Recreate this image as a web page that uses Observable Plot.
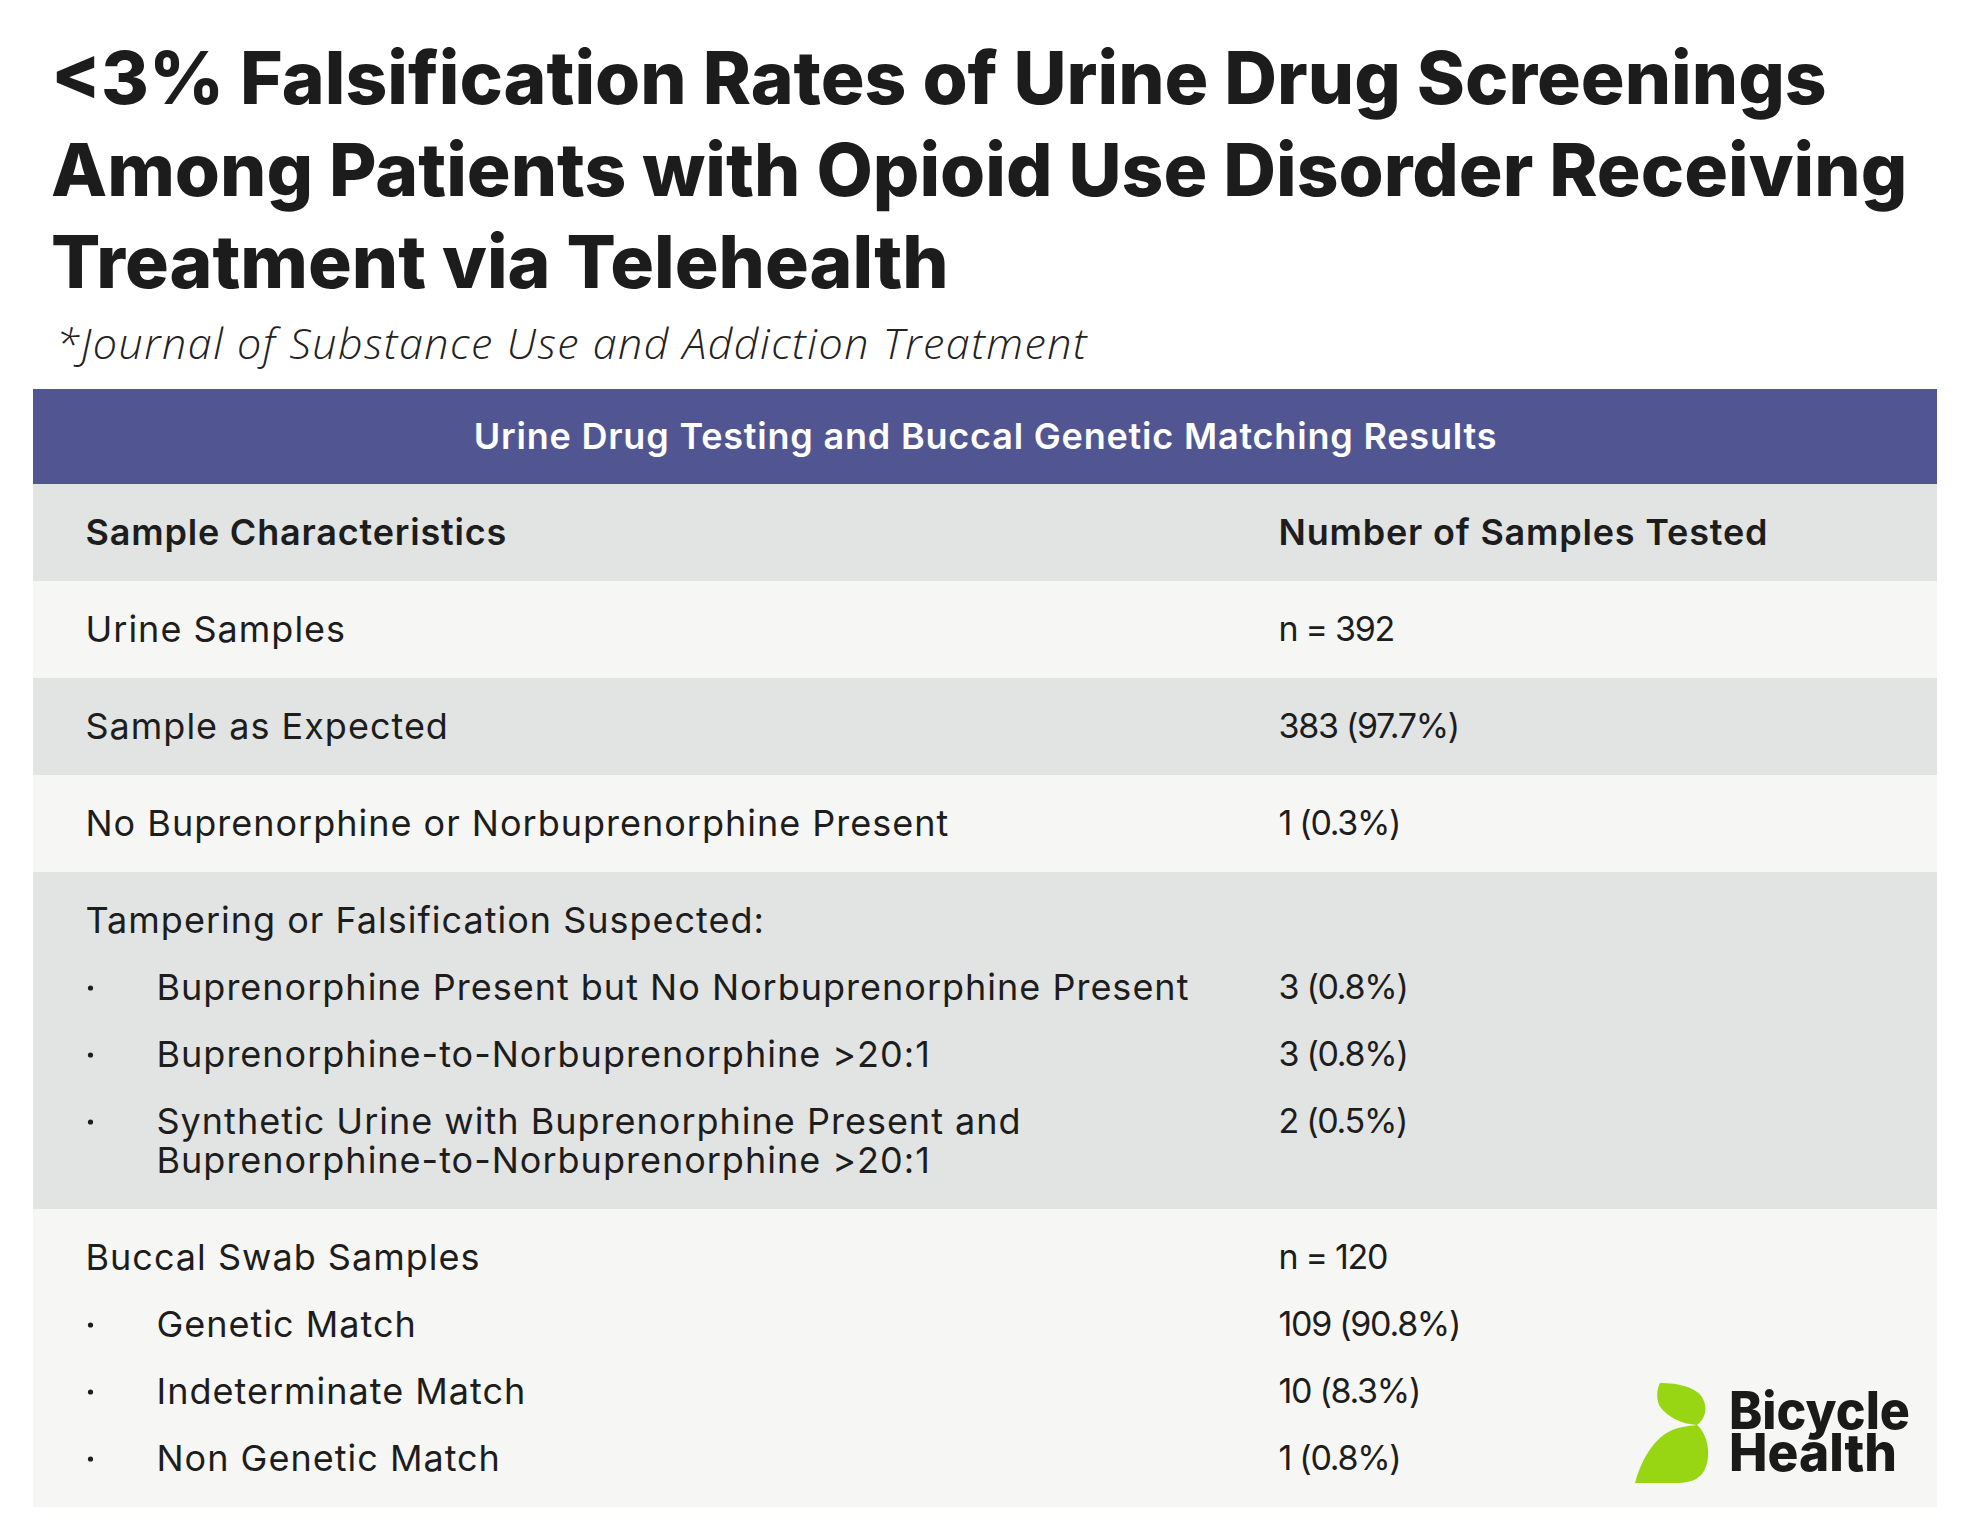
<!DOCTYPE html>
<html>
<head>
<meta charset="utf-8">
<script src="https://cdn.jsdelivr.net/npm/d3@7"></script>
<script src="https://cdn.jsdelivr.net/npm/@observablehq/plot@0.6"></script>
<style>
  html, body { margin: 0; padding: 0; background: #ffffff; width: 1968px; height: 1536px; overflow: hidden; }
  #head { position: relative; height: 389px; }
  #title { position: absolute; left: 51px; top: 32px; margin: 0; font-family: Inter, sans-serif; font-weight: 800;
           font-size: 73px; line-height: 92px; color: #1c1c1c; letter-spacing: 0px; white-space: nowrap; }
  #subtitle { position: absolute; left: 56px; top: 318px; margin: 0; font-family: "Open Sans", sans-serif; font-style: italic;
              font-weight: 300; font-size: 43px; line-height: 50px; color: #222; letter-spacing: 1.5px; white-space: nowrap; }
  #chart svg { display: block; }
</style>
</head>
<body>
<div id="head">
  <h1 id="title"></h1>
  <p id="subtitle"></p>
</div>
<div id="chart"></div>
<script>
// ---- content ----
const titleLines = [
  "<3% Falsification Rates of Urine Drug Screenings",
  "Among Patients with Opioid Use Disorder Receiving",
  "Treatment via Telehealth"
];
const subtitle = "*Journal of Substance Use and Addiction Treatment";
const tableTitle = "Urine Drug Testing and Buccal Genetic Matching Results";
const columnHeaders = ["Sample Characteristics", "Number of Samples Tested"];

const rowLabels = [
  "Urine Samples",
  "Sample as Expected",
  "No Buprenorphine or Norbuprenorphine Present",
  "Tampering or Falsification Suspected:",
  "Buprenorphine Present but No Norbuprenorphine Present",
  "Buprenorphine-to-Norbuprenorphine >20:1",
  "Synthetic Urine with Buprenorphine Present and\nBuprenorphine-to-Norbuprenorphine >20:1",
  "Buccal Swab Samples",
  "Genetic Match",
  "Indeterminate Match",
  "Non Genetic Match"
];
const rowCounts   = [392, 383, 1, null, 3, 3, 2, 120, 109, 10, 1];
const rowPercents = [null, 97.7, 0.3, null, 0.8, 0.8, 0.5, null, 90.8, 8.3, 0.8];
const rowIsTotal  = [true, false, false, false, false, false, false, true, false, false, false];
const rowBullet   = [false, false, false, false, true, true, true, false, true, true, true];
const rowGroup    = [0, 1, 2, 3, 3, 3, 3, 4, 4, 4, 4];
const logoWords = ["Bicycle", "Health"];

// ---- page header ----
document.getElementById("title").innerHTML = titleLines.map(t => t.replace(/</g, "&lt;")).join("<br>");
document.getElementById("subtitle").textContent = subtitle;

// ---- layout (derived from row structure) ----
const W = 1968, H = 1147;
const tableX1 = 33, tableX2 = 1937;
const colX = [85, 1278], bulletX = 90, indentX = 156;
const barH = 95, rowPad = 48.5, linePitch = 67, wrapPitch = 39;
const shadeA = "#e1e4e3", shadeB = "#f6f6f4";

const bands = [];
const lines = [];
const values = [];
const bullets = [];
let y = 0;
bands.push({y1: 0, y2: barH, fill: "#515693"});
y = barH;
bands.push({y1: y, y2: y + 2 * rowPad, fill: shadeA});
const colHeadY = y + rowPad;
y += 2 * rowPad;

const groupIds = [...new Set(rowGroup)];
groupIds.forEach((g, gi) => {
  const idx = rowLabels.map((_, i) => i).filter(i => rowGroup[i] === g);
  const y1 = y;
  let cy = y + rowPad;
  idx.forEach((i, k) => {
    if (k > 0) cy += linePitch;
    const parts = rowLabels[i].split("\n");
    parts.forEach((p, pi) => {
      lines.push({x: rowBullet[i] ? indentX : colX[0], y: cy + pi * wrapPitch, text: p});
    });
    if (rowBullet[i]) bullets.push({x: bulletX, y: cy});
    if (rowCounts[i] != null) {
      values.push({x: colX[1], y: cy,
        text: rowIsTotal[i] ? `n = ${rowCounts[i]}` : `${rowCounts[i]} (${rowPercents[i]}%)`});
    }
    cy += (parts.length - 1) * wrapPitch;
  });
  const y2 = cy + rowPad;
  bands.push({y1, y2, fill: gi % 2 === 0 ? shadeB : shadeA});
  y = y2;
});

const font = "Inter, sans-serif";
const plot = Plot.plot({
  width: W, height: H, margin: 0,
  x: {domain: [0, W], range: [0, W], axis: null},
  y: {domain: [0, H], range: [0, H], axis: null},
  style: {background: "transparent", fontFamily: font},
  marks: [
    Plot.rect(bands, {x1: tableX1, x2: tableX2, y1: "y1", y2: "y2", fill: "fill"}),
    Plot.text([tableTitle], {x: (tableX1 + tableX2) / 2, y: barH / 2, text: d => d, fill: "#ffffff",
      fontSize: 36, fontWeight: 600, textAnchor: "middle", className: "ttl"}),
    Plot.text(columnHeaders, {x: (d, i) => colX[i], y: colHeadY, text: d => d, fill: "#1d1d1d",
      fontSize: 36, fontWeight: 600, textAnchor: "start", className: "colhead"}),
    Plot.text(lines, {x: "x", y: "y", text: "text", fill: "#1d1d1d", fontSize: 36, fontWeight: 400,
      textAnchor: "start", className: "lbl"}),
    Plot.text(values, {x: "x", y: "y", text: "text", fill: "#1d1d1d", fontSize: 34, fontWeight: 400,
      textAnchor: "start", className: "val"}),
    Plot.dot(bullets, {x: "x", y: "y", r: 2.6, fill: "#1d1d1d", stroke: null})
  ]
});
document.getElementById("chart").appendChild(plot);

const svg = d3.select(plot);
svg.selectAll(".ttl text").attr("letter-spacing", 0.8);
svg.selectAll(".colhead text").attr("letter-spacing", 0.8);
svg.selectAll(".lbl text").attr("letter-spacing", 1.0);
svg.selectAll(".val text").attr("letter-spacing", -1.3);

// ---- logo ----
const logo = svg.append("g").attr("class", "logo").attr("text-anchor", "start");
logo.append("path")
  .attr("d", "M1660,994 C1678,994 1697,998 1703,1010 C1708,1020 1705,1030 1697,1036 C1682,1035 1666,1028 1659,1016 C1656,1008 1657,1000 1660,994 Z")
  .attr("fill", "#98d512");
logo.append("path")
  .attr("d", "M1697,1036 C1708,1045 1712,1068 1704,1082 C1698,1092 1688,1094 1675,1094 L1635,1094 C1640,1075 1650,1055 1665,1045 C1675,1038 1688,1037 1697,1036 Z")
  .attr("fill", "#98d512");
const logoLens = [181, 168];
logoWords.forEach((w, i) => {
  logo.append("text")
    .attr("x", 1729).attr("y", 1040 + i * 42)
    .attr("text-anchor", "start")
    .attr("font-family", font).attr("font-weight", 800).attr("font-size", 52)
    .attr("textLength", logoLens[i]).attr("lengthAdjust", "spacingAndGlyphs")
    .attr("fill", "#1a1a1a").text(w);
});
</script>
</body>
</html>
